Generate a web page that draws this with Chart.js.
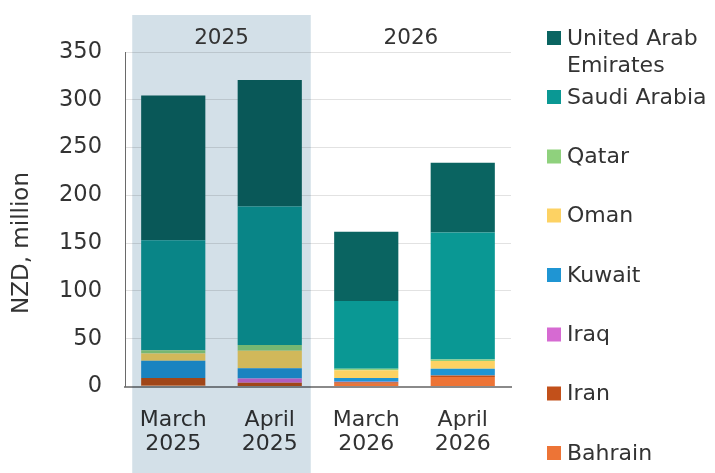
<!DOCTYPE html>
<html>
<head>
<meta charset="utf-8">
<script src="https://cdn.jsdelivr.net/npm/chart.js@4.4.1/dist/chart.umd.min.js"></script>
<style>
  html, body { margin: 0; padding: 0; background: #ffffff; }
  canvas { display: block; }
</style>
</head>
<body>
<canvas id="chart" width="715" height="473"></canvas>
<script>
// Monthly values by country, NZD million
const months = ['March', 'April', 'March', 'April'];
const years = ['2025', '2025', '2026', '2026'];
const yearGroups = ['2025', '2026'];
const yMax = 350;
const yStep = 50;

const bahrain = [1, 0, 3, 10];
const iran = [8, 4, 1.5, 1.5];
const iraq = [0, 4.5, 0.5, 0];
const kuwait = [18, 10.5, 4, 7];
const oman = [7.5, 18.5, 8, 8.2];
const qatar = [3.5, 5.8, 1.5, 1.5];
const saudiArabia = [115, 145, 71, 133];
const uae = [151.5, 132.5, 72.5, 73];

const FONT = '"DejaVu Sans", Verdana, sans-serif';
const TEXT = '#333333';

// bottom-to-top stacking order
const series = [
  { label: 'Bahrain', data: bahrain, color: '#ed7436' },
  { label: 'Iran', data: iran, color: '#c2501a' },
  { label: 'Iraq', data: iraq, color: '#d66ad2' },
  { label: 'Kuwait', data: kuwait, color: '#1f95d3' },
  { label: 'Oman', data: oman, color: '#fdd263' },
  { label: 'Qatar', data: qatar, color: '#8fd17d' },
  { label: 'Saudi Arabia', data: saudiArabia, color: '#0a9894' },
  { label: 'United Arab Emirates', data: uae, color: '#0a6461' }
];

// legend rows, top to bottom, with wrapped text lines
const legendRows = [
  { name: 'United Arab Emirates', lines: ['United Arab', 'Emirates'], y: 38 },
  { name: 'Saudi Arabia', lines: ['Saudi Arabia'], y: 97 },
  { name: 'Qatar', lines: ['Qatar'], y: 156.5 },
  { name: 'Oman', lines: ['Oman'], y: 215.5 },
  { name: 'Kuwait', lines: ['Kuwait'], y: 275 },
  { name: 'Iraq', lines: ['Iraq'], y: 334.5 },
  { name: 'Iran', lines: ['Iran'], y: 393.5 },
  { name: 'Bahrain', lines: ['Bahrain'], y: 453 }
];

const yearBands = {
  id: 'yearBands',
  bandEdges(chart) {
    const x = chart.scales.x;
    const w = x.getPixelForValue(1) - x.getPixelForValue(0);
    return {
      left: x.getPixelForValue(0) - 0.425 * w,
      right: x.getPixelForValue(1) + 0.425 * w
    };
  },
  afterDatasetsDraw(chart) {
    const { ctx, chartArea } = chart;
    const { left, right } = this.bandEdges(chart);
    const top = chartArea.top - 37;
    ctx.save();
    ctx.globalCompositeOperation = 'multiply';
    ctx.fillStyle = '#d3e0e8';
    ctx.fillRect(left, top, right - left, chart.height - top);
    ctx.restore();
  },
  afterDraw(chart) {
    const { ctx, chartArea } = chart;
    const { left, right } = this.bandEdges(chart);
    ctx.save();
    ctx.fillStyle = TEXT;
    ctx.textBaseline = 'middle';

    // year headers
    ctx.font = '21.5px ' + FONT;
    ctx.textAlign = 'center';
    ctx.fillText(yearGroups[0], (left + right) / 2, chartArea.top - 14);
    ctx.fillText(yearGroups[1], (right + chartArea.right) / 2, chartArea.top - 14);

    // y axis title
    ctx.save();
    ctx.translate(22, 243);
    ctx.rotate(-Math.PI / 2);
    ctx.font = '23px ' + FONT;
    ctx.fillText('NZD, million', 0, 0);
    ctx.restore();

    // legend
    ctx.font = '22px ' + FONT;
    ctx.textAlign = 'left';
    legendRows.forEach(row => {
      const ds = chart.data.datasets.find(d => d.label === row.name);
      ctx.fillStyle = ds.backgroundColor;
      ctx.fillRect(547, row.y - 7, 14, 14);
      ctx.fillStyle = TEXT;
      row.lines.forEach((t, i) => ctx.fillText(t, 567, row.y + 1 + i * 27));
    });
    ctx.restore();
  }
};

new Chart(document.getElementById('chart'), {
  type: 'bar',
  data: {
    labels: months.map((m, i) => [m, years[i]]),
    datasets: series.map(s => ({
      label: s.label,
      data: s.data,
      backgroundColor: s.color,
      borderWidth: 0,
      barPercentage: 0.665,
      categoryPercentage: 1
    }))
  },
  options: {
    responsive: false,
    animation: false,
    devicePixelRatio: 1,
    layout: { padding: { top: 52, right: 204, left: 0, bottom: 0 } },
    plugins: {
      legend: { display: false },
      tooltip: { enabled: false },
      title: { display: false }
    },
    scales: {
      x: {
        stacked: true,
        grid: { display: false },
        border: { display: true, color: '#8a8a8a', width: 2 },
        ticks: {
          color: TEXT,
          font: { family: FONT, size: 22, lineHeight: 1.07 },
          padding: 14,
          maxRotation: 0,
          autoSkip: false
        },
        afterFit(scale) { scale.height = 86.5; }
      },
      y: {
        stacked: true,
        min: 0,
        max: yMax,
        grid: { color: '#e2e2e2', lineWidth: 1, drawTicks: false },
        border: { display: true, color: '#6a6a6a', width: 1 },
        ticks: {
          stepSize: yStep,
          color: TEXT,
          font: { family: FONT, size: 22.5 },
          padding: 23
        },
        afterFit(scale) { scale.width = 125; }
      }
    }
  },
  plugins: [yearBands]
});
</script>
</body>
</html>
